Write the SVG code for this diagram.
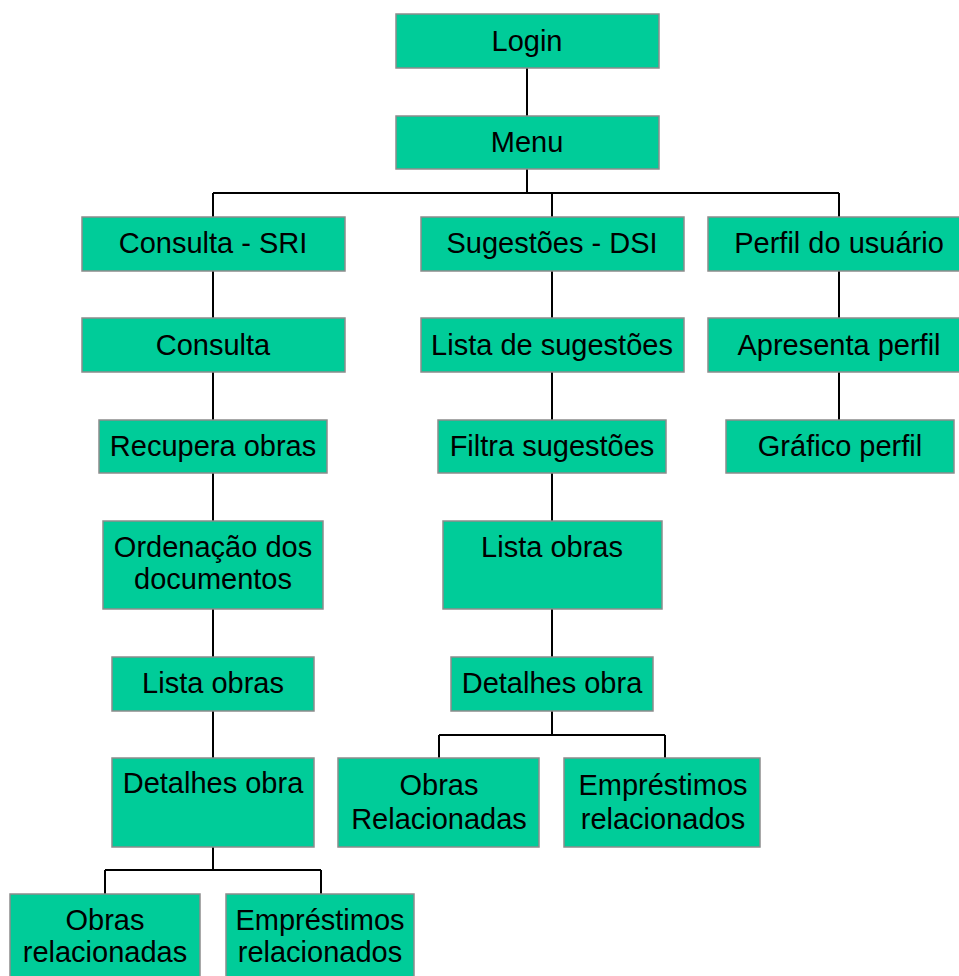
<svg xmlns="http://www.w3.org/2000/svg" width="959" height="976" viewBox="0 0 959 976">
  <style>
    .box { fill: #00CC99; stroke: #8C8C8C; stroke-width: 1.5; }
    .lbl { font-family: "Liberation Sans", Arial, sans-serif; font-size: 29px; fill: #000; text-anchor: middle; }
    .wire { fill: none; stroke: #000; stroke-width: 2; }
  </style>
  <rect width="959" height="976" fill="#ffffff"/>

  <!-- connectors -->
  <g id="connectors" class="wire">
    <path d="M527 68V116"/>
    <path d="M527 169V193M213 193H839M213 193V217M552 193V217M839 193V217"/>
    <!-- left branch -->
    <path d="M213 271V318M213 372V420M213 473V521M213 609V657M213 711V758M213 847V870"/>
    <path d="M105 870H321M105 870V894M321 870V894"/>
    <!-- middle branch -->
    <path d="M552 271V318M552 372V420M552 473V521M552 609V657M552 711V735"/>
    <path d="M439 735H665M439 735V758M665 735V758"/>
    <!-- right branch -->
    <path d="M839 271V318M839 372V420"/>
  </g>

  <g id="login"><rect class="box" x="396" y="14" width="263" height="54"/><text class="lbl" x="527" y="51">Login</text></g>
  <g id="menu"><rect class="box" x="396" y="116" width="263" height="53"/><text class="lbl" x="527" y="152">Menu</text></g>

  <g id="consulta-sri"><rect class="box" x="82" y="217" width="263" height="54"/><text class="lbl" x="213" y="253">Consulta - SRI</text></g>
  <g id="consulta"><rect class="box" x="82" y="318" width="263" height="54"/><text class="lbl" x="213" y="355">Consulta</text></g>
  <g id="recupera-obras"><rect class="box" x="99" y="420" width="228" height="53"/><text class="lbl" x="213" y="456">Recupera obras</text></g>
  <g id="ordenacao"><rect class="box" x="103" y="521" width="220" height="88"/><text class="lbl" x="213" y="557">Ordenação dos</text><text class="lbl" x="213" y="589">documentos</text></g>
  <g id="lista-obras-sri"><rect class="box" x="112" y="657" width="202" height="54"/><text class="lbl" x="213" y="693">Lista obras</text></g>
  <g id="detalhes-obra-sri"><rect class="box" x="112" y="758" width="202" height="89"/><text class="lbl" x="213" y="793">Detalhes obra</text></g>
  <g id="obras-relacionadas-sri"><rect class="box" x="10" y="894" width="190" height="100"/><text class="lbl" x="105" y="930">Obras</text><text class="lbl" x="105" y="962">relacionadas</text></g>
  <g id="emprestimos-sri"><rect class="box" x="226" y="894" width="188" height="100"/><text class="lbl" x="320" y="930">Empréstimos</text><text class="lbl" x="320" y="962">relacionados</text></g>

  <g id="sugestoes-dsi"><rect class="box" x="421" y="217" width="263" height="54"/><text class="lbl" x="552" y="253">Sugestões - DSI</text></g>
  <g id="lista-sugestoes"><rect class="box" x="421" y="318" width="263" height="54"/><text class="lbl" x="552" y="355">Lista de sugestões</text></g>
  <g id="filtra-sugestoes"><rect class="box" x="438" y="420" width="228" height="53"/><text class="lbl" x="552" y="456">Filtra sugestões</text></g>
  <g id="lista-obras-dsi"><rect class="box" x="443" y="521" width="219" height="88"/><text class="lbl" x="552" y="557">Lista obras</text></g>
  <g id="detalhes-obra-dsi"><rect class="box" x="451" y="657" width="202" height="54"/><text class="lbl" x="552" y="693">Detalhes obra</text></g>
  <g id="obras-relacionadas-dsi"><rect class="box" x="338" y="758" width="201" height="89"/><text class="lbl" x="439" y="795">Obras</text><text class="lbl" x="439" y="829">Relacionadas</text></g>
  <g id="emprestimos-dsi"><rect class="box" x="564" y="758" width="196" height="89"/><text class="lbl" x="663" y="795">Empréstimos</text><text class="lbl" x="663" y="829">relacionados</text></g>

  <g id="perfil-usuario"><rect class="box" x="708" y="217" width="262" height="54"/><text class="lbl" x="839" y="253">Perfil do usuário</text></g>
  <g id="apresenta-perfil"><rect class="box" x="708" y="318" width="262" height="54"/><text class="lbl" x="839" y="355">Apresenta perfil</text></g>
  <g id="grafico-perfil"><rect class="box" x="726" y="420" width="228" height="53"/><text class="lbl" x="840" y="456">Gráfico perfil</text></g>
</svg>
